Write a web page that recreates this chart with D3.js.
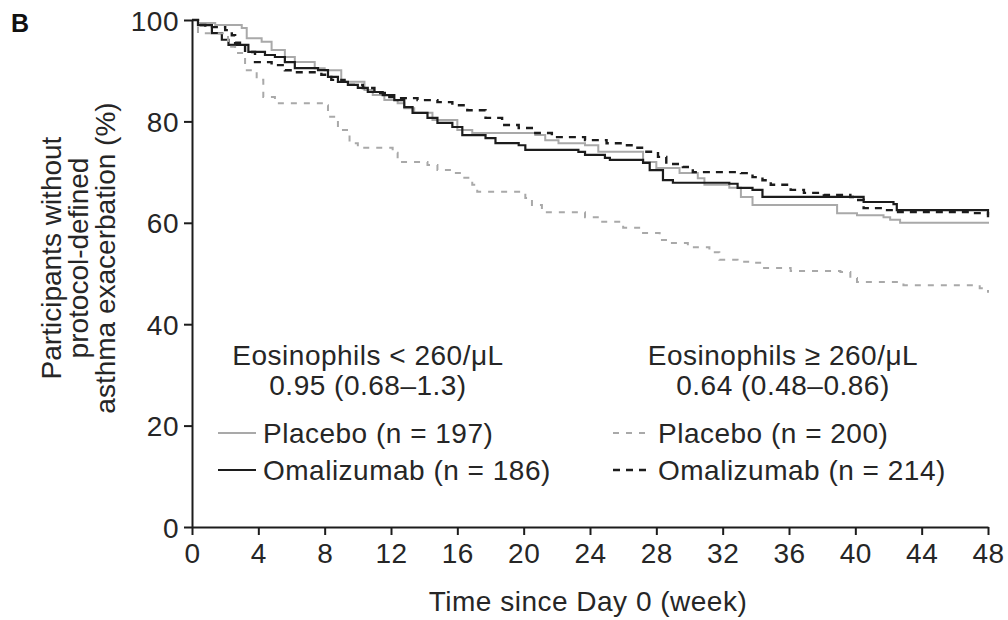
<!DOCTYPE html>
<html>
<head>
<meta charset="utf-8">
<script src="https://cdn.jsdelivr.net/npm/d3@7"></script>
<style>
  html, body { margin: 0; padding: 0; background: #fff; }
  svg { display: block; font-family: "Liberation Sans", Arial, Helvetica, sans-serif; }
</style>
</head>
<body>
<svg id="chart" width="1008" height="620"></svg>
<script>
// Kaplan–Meier estimates: [week, % without protocol-defined exacerbation]
const placeboLow = [
  [0,100],[0.36,99.4],[1.4,99.0],[3.0,98.4],[3.3,96.4],[4.2,95.7],[4.8,94.1],[5.6,92.7],
  [6.2,91.7],[7.4,90.5],[8.0,90.1],[9.0,87.8],[10.4,86.2],[10.9,85.2],[11.6,84.2],[12.4,83.6],
  [12.8,82.6],[13.4,81.7],[14.5,80.3],[16.0,78.3],[16.9,77.7],[20.7,77.3],[21.3,76.3],[22.1,75.7],
  [23.7,75.3],[24.5,74.0],[27.2,72.0],[28.0,70.8],[29.4,69.8],[30.5,68.8],[30.9,67.5],[32.4,66.9],
  [33.1,65.1],[33.8,63.5],[38.9,61.9],[40.1,61.5],[41.7,61.1],[42.1,60.6],[42.7,60.0],[48,59.8]
];
const omalizumabLow = [
  [0,100],[0.36,99.0],[1.2,97.4],[1.8,96.1],[2.2,95.1],[3.4,93.7],[4.4,93.1],[5.0,92.7],
  [5.6,91.7],[6.2,90.5],[7.6,90.1],[8.2,88.8],[8.8,87.8],[9.4,87.2],[10.0,86.6],[10.6,85.8],
  [11.5,85.2],[12.2,84.2],[12.8,82.8],[13.3,81.7],[14.2,80.7],[14.8,79.7],[15.7,78.9],[16.3,77.3],
  [17.7,76.7],[18.3,75.7],[19.7,75.3],[20.1,74.4],[23.3,74.0],[23.7,73.4],[24.9,72.8],[25.2,72.4],
  [27.2,71.8],[27.6,70.4],[28.4,68.4],[29.0,67.9],[32.4,67.7],[32.9,66.9],[33.8,66.5],[34.4,65.1],
  [40.5,64.1],[42.3,63.7],[42.5,62.5],[47.3,62.5],[48,61.5]
];
const placeboHigh = [
  [0,100],[0.36,97.4],[2.17,94.7],[2.6,93.5],[3.2,90.1],[3.9,88.2],[4.3,84.8],[5.0,83.6],
  [8.0,83.2],[8.2,80.9],[8.8,78.3],[9.5,75.7],[10.0,74.8],[12.1,73.8],[12.4,72.0],[14.2,71.4],
  [14.8,70.4],[15.7,69.8],[16.3,68.9],[16.9,67.5],[17.2,66.1],[20.1,64.9],[20.5,63.5],[21.1,62.1],
  [23.7,61.1],[24.6,60.2],[26.0,59.0],[27.2,58.0],[28.2,56.6],[28.8,56.0],[29.9,55.2],[31.2,54.2],
  [31.8,52.7],[32.9,52.3],[33.8,52.1],[34.4,51.1],[36.1,50.5],[39.1,50.3],[39.7,49.1],[40.1,48.3],
  [42.9,47.7],[47.5,47.1],[48,46.2]
];
const omalizumabHigh = [
  [0,100],[0.36,99.0],[0.8,98.6],[2.0,98.0],[2.4,97.0],[2.6,95.5],[3.2,93.7],[3.8,91.7],
  [4.8,91.1],[5.6,90.1],[6.2,89.7],[7.8,89.2],[8.4,88.2],[9.2,87.2],[10.3,86.6],[11.0,85.6],
  [11.9,84.8],[12.4,84.6],[13.6,84.2],[14.8,83.8],[15.7,83.2],[16.6,82.2],[17.7,80.7],[18.7,79.3],
  [19.7,78.7],[20.7,77.7],[21.7,76.9],[23.7,76.3],[25.0,75.7],[26.0,75.3],[26.6,74.8],[27.4,74.0],
  [28.1,73.0],[28.6,71.6],[29.6,71.0],[30.2,70.0],[33.1,69.8],[33.8,69.0],[34.4,68.4],[34.9,67.5],
  [36.1,66.5],[36.9,65.9],[38.1,65.5],[39.7,65.1],[40.1,64.5],[40.5,62.9],[41.7,62.5],[42.5,62.1],
  [46.1,62.1],[47.1,61.9],[48,61.1]
];

const xTicks = [0,4,8,12,16,20,24,28,32,36,40,44,48];
const yTicks = [0,20,40,60,80,100];

const groupTitles = ["Eosinophils < 260/\u03bcL", "Eosinophils \u2265 260/\u03bcL"];
const hazardRatios = ["0.95 (0.68\u20131.3)", "0.64 (0.48\u20130.86)"];
const legendLabels = [
  ["Placebo (n = 197)", "Omalizumab (n = 186)"],
  ["Placebo (n = 200)", "Omalizumab (n = 214)"]
];
const yTitleLines = ["Participants without", "protocol-defined", "asthma exacerbation (%)"];

const LIGHT = "#a9a9a9", DARK = "#1c1c1c", TEXT = "#262626";
const styles = {
  placeboLow:     { stroke: LIGHT, width: 2,   dash: null },
  omalizumabLow:  { stroke: DARK,  width: 2.2, dash: null },
  placeboHigh:    { stroke: LIGHT, width: 2,   dash: "6,7" },
  omalizumabHigh: { stroke: DARK,  width: 2.4, dash: "7,6" }
};

const svg = d3.select("#chart");
const x = d3.scaleLinear().domain([0, 48]).range([192, 988]);
const y = d3.scaleLinear().domain([0, 100]).range([527, 20]);
const FS = 28, LS = "0.5px";

// axes
const xAxis = svg.append("g").attr("transform", `translate(0,${y(0)})`)
  .call(d3.axisBottom(x).tickValues(xTicks).tickSize(8).tickPadding(8).tickSizeOuter(0));
const yAxis = svg.append("g").attr("transform", `translate(${x(0)},0)`)
  .call(d3.axisLeft(y).tickValues(yTicks).tickSize(8).tickPadding(5).tickSizeOuter(0));
[xAxis, yAxis].forEach(a => {
  a.select(".domain").attr("stroke", DARK).attr("stroke-width", 2);
  a.selectAll(".tick line").attr("stroke", DARK).attr("stroke-width", 2);
  a.selectAll(".tick text").attr("fill", TEXT).style("font-size", FS + "px")
    .style("letter-spacing", LS)
    .style("font-family", '"Liberation Sans", Arial, sans-serif');
});
yAxis.selectAll(".tick text").attr("dy", "0.36em");

// survival curves
const line = d3.line().x(d => x(d[0])).y(d => y(d[1])).curve(d3.curveStepAfter);
const series = [
  ["placeboLow", placeboLow], ["omalizumabLow", omalizumabLow],
  ["placeboHigh", placeboHigh], ["omalizumabHigh", omalizumabHigh]
];
svg.append("g").selectAll("path").data(series).join("path")
  .attr("d", d => line(d[1]))
  .attr("fill", "none")
  .attr("stroke", d => styles[d[0]].stroke)
  .attr("stroke-width", d => styles[d[0]].width)
  .attr("stroke-dasharray", d => styles[d[0]].dash);

// axis titles
svg.append("text").attr("x", (x(0) + x(48)) / 2 - 2).attr("y", 611)
  .attr("text-anchor", "middle").attr("fill", TEXT).style("font-size", FS + "px")
  .style("letter-spacing", LS)
  .text("Time since Day 0 (week)");
const yt = svg.append("text").attr("transform", "translate(61,258) rotate(-90)")
  .attr("text-anchor", "middle").attr("fill", TEXT).style("font-size", FS + "px");
yTitleLines.forEach((t, i) => yt.append("tspan").attr("x", 0).attr("y", i * 27).text(t));

// panel letter
svg.append("text").attr("x", 11).attr("y", 32).attr("fill", "#111")
  .style("font-size", "25px").style("font-weight", "bold").text("B");

// legend blocks
const blocks = [
  { cx: 368, sx: 218, keys: ["placeboLow", "omalizumabLow"] },
  { cx: 783, sx: 613, keys: ["placeboHigh", "omalizumabHigh"] }
];
blocks.forEach((b, i) => {
  const g = svg.append("g").attr("fill", TEXT).style("font-size", FS + "px")
    .style("letter-spacing", LS);
  g.append("text").attr("x", b.cx).attr("y", 365).attr("text-anchor", "middle").text(groupTitles[i]);
  g.append("text").attr("x", b.cx).attr("y", 395).attr("text-anchor", "middle").text(hazardRatios[i]);
  b.keys.forEach((k, j) => {
    const ly = 433 + j * 37;
    g.append("line").attr("x1", b.sx).attr("x2", b.sx + 38).attr("y1", ly).attr("y2", ly)
      .attr("stroke", styles[k].stroke).attr("stroke-width", styles[k].width)
      .attr("stroke-dasharray", styles[k].dash);
    g.append("text").attr("x", b.sx + 45).attr("y", ly + 10).text(legendLabels[i][j]);
  });
});
</script>
</body>
</html>
